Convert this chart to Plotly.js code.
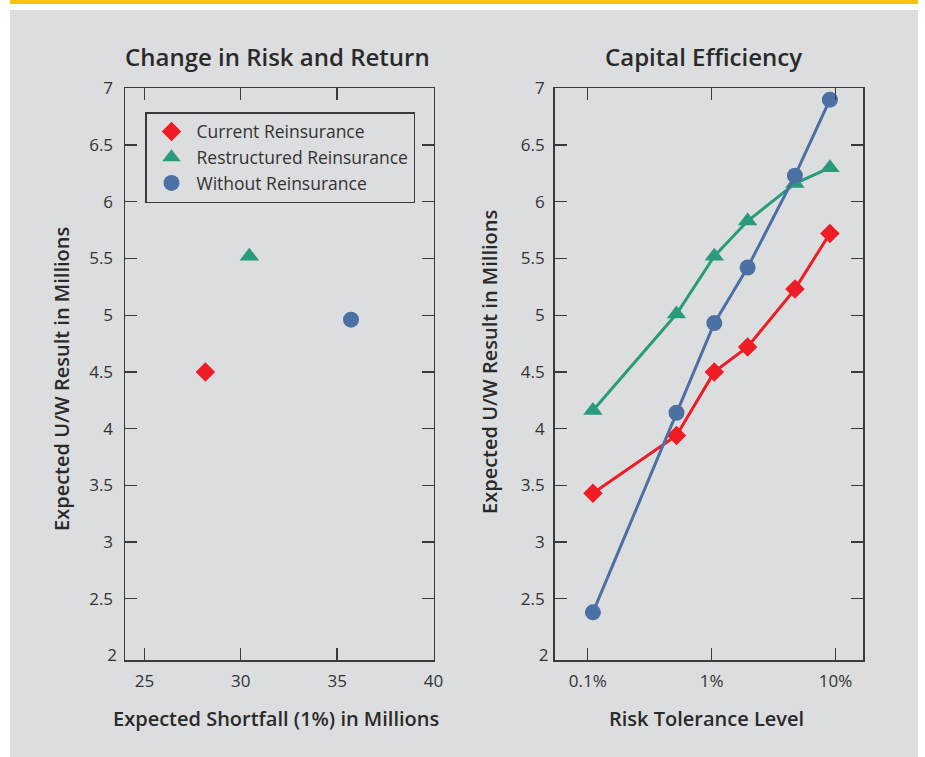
<!DOCTYPE html>
<html>
<head>
<meta charset="utf-8">
<script src="https://cdn.plot.ly/plotly-3.0.1.min.js"></script>
<style>
  html, body { margin: 0; padding: 0; background: #ffffff; }
  #chart { width: 925px; height: 757px; }
</style>
</head>
<body>
<div id="chart"></div>
<script>
// Series names
const seriesNames = ['Current Reinsurance', 'Restructured Reinsurance', 'Without Reinsurance'];

// Left panel: expected shortfall (1%) vs expected U/W result, in millions
const shortfall = [28.16, 30.44, 35.72];
const uwResult = [4.50, 5.52, 4.96];

// Right panel: risk tolerance level (%) vs expected U/W result, in millions
const riskTolerance = [0.11, 0.52, 1.05, 1.95, 4.7, 9.0];
const currentUW = [3.43, 3.94, 4.50, 4.72, 5.23, 5.72];
const restructuredUW = [4.16, 5.01, 5.52, 5.83, 6.16, 6.30];
const withoutUW = [2.38, 4.14, 4.93, 5.42, 6.23, 6.90];

// Tick labels
const leftXTicks = [25, 30, 35, 40];
const rightXTicks = [0.1, 1, 10];
const rightXTickText = ['0.1%', '1%', '10%'];
const yTicks = [2, 2.5, 3, 3.5, 4, 4.5, 5, 5.5, 6, 6.5, 7];

const colors = ['#ee1c25', '#2a9a7c', '#4b70a4'];
const symbols = ['diamond', 'triangle-up', 'circle'];
const sizes = [15, 17, 16];

const W = 925, H = 757;
const px = v => v / W;
const py = v => 1 - v / H;

const FONT = '"Open Sans", "Noto Sans", sans-serif';
const ink = '#333333';
const titleInk = '#2a2a2a';
const yRange = [1.96, 7];

const traces = [];

// Left panel: one marker per strategy
for (let i = 0; i < 3; i++) {
  traces.push({
    type: 'scatter', mode: 'markers',
    x: [shortfall[i]], y: [uwResult[i]],
    name: seriesNames[i],
    xaxis: 'x', yaxis: 'y',
    marker: { symbol: symbols[i], size: sizes[i], color: colors[i], line: { width: 0 } },
    showlegend: true
  });
}

// Right panel: lines with markers across tolerance levels
const rightSeries = [currentUW, restructuredUW, withoutUW];
for (let i = 0; i < 3; i++) {
  traces.push({
    type: 'scatter', mode: 'lines+markers',
    x: riskTolerance, y: rightSeries[i],
    name: seriesNames[i],
    xaxis: 'x2', yaxis: 'y2',
    line: { color: colors[i], width: 3 },
    marker: { symbol: symbols[i], size: sizes[i], color: colors[i], line: { width: 0 } },
    showlegend: false
  });
}

const axisCommon = {
  showline: true, linecolor: '#3a3a3a', linewidth: 1.5,
  mirror: 'ticks', ticks: 'inside', ticklen: 12, tickwidth: 1.3, tickcolor: '#3a3a3a',
  showgrid: false, zeroline: false,
  tickfont: { family: FONT, size: 17, color: ink },
  fixedrange: true
};

// The lowest y value sits just above the frame, so it gets a label but no tick mark
const yTickMarks = yTicks.slice(1);
const yLabelOnly = yTicks.slice(0, 1);

function labelAxis(overlay, anchor, standoff) {
  return {
    overlaying: overlay, anchor: anchor, domain: [py(660), py(88.3)],
    range: yRange, tickvals: yLabelOnly, ticks: '', showline: false,
    showgrid: false, zeroline: false, ticklabelstandoff: standoff,
    tickfont: { family: FONT, size: 17, color: ink }, fixedrange: true
  };
}

function label(text, x, y, size, angle) {
  return {
    text: text, xref: 'paper', yref: 'paper', x: px(x), y: py(y),
    xanchor: 'center', yanchor: 'middle', showarrow: false, textangle: angle || 0,
    font: { family: FONT, size: size, color: titleInk, weight: 600 }
  };
}

const layout = {
  width: W, height: H,
  margin: { l: 0, r: 0, t: 0, b: 0 },
  paper_bgcolor: '#ffffff',
  plot_bgcolor: 'rgba(0,0,0,0)',
  showlegend: true,
  font: { family: FONT, color: ink },
  xaxis: Object.assign({}, axisCommon, {
    domain: [px(125), px(433.5)], anchor: 'y',
    range: [23.99, 40], tickvals: leftXTicks, ticklabelstandoff: 5
  }),
  yaxis: Object.assign({}, axisCommon, {
    domain: [py(660), py(88.3)], anchor: 'x',
    range: yRange, tickvals: yTickMarks, ticklabelstandoff: 7
  }),
  xaxis2: Object.assign({}, axisCommon, {
    domain: [px(554.6), px(863.2)], anchor: 'y2',
    type: 'log', range: [-1.268, 1.223],
    tickvals: rightXTicks, ticktext: rightXTickText, ticklabelstandoff: 5
  }),
  yaxis2: Object.assign({}, axisCommon, {
    domain: [py(660), py(88.3)], anchor: 'x2',
    range: yRange, tickvals: yTickMarks, ticklabelstandoff: 5
  }),
  yaxis3: labelAxis('y', 'x', 7),
  yaxis4: labelAxis('y2', 'x2', 5),
  legend: {
    x: px(145), y: py(112), xanchor: 'left', yanchor: 'top',
    bgcolor: 'rgba(0,0,0,0)', bordercolor: '#3a3a3a', borderwidth: 1.5,
    itemwidth: 40,
    font: { family: FONT, size: 17.5, color: ink },
    itemclick: false, itemdoubleclick: false
  },
  shapes: [
    // grey panel
    { type: 'rect', xref: 'paper', yref: 'paper', layer: 'below',
      x0: px(10), x1: px(918), y0: 0, y1: py(10),
      fillcolor: '#dcdddf', line: { width: 0 } },
    // gold rule across the top
    { type: 'rect', xref: 'paper', yref: 'paper', layer: 'below',
      x0: px(10), x1: px(918), y0: py(4), y1: 1,
      fillcolor: '#fec20e', line: { width: 0 } }
  ],
  annotations: [
    label('Change in Risk and Return', 277.5, 57, 24),
    label('Capital Efficiency', 703, 57, 24),
    label('Expected Shortfall (1%) in Millions', 275.5, 718, 20),
    label('Risk Tolerance Level', 706, 718, 20),
    label('Expected U/W Result in Millions', 61, 379, 20, -90),
    label('Expected U/W Result in Millions', 489, 362, 20, -90)
  ]
};

// invisible traces bound to the label-only axes so they are laid out
traces.push({ type: 'scatter', mode: 'none', x: [], y: [], xaxis: 'x', yaxis: 'y3', showlegend: false, hoverinfo: 'skip' });
traces.push({ type: 'scatter', mode: 'none', x: [], y: [], xaxis: 'x2', yaxis: 'y4', showlegend: false, hoverinfo: 'skip' });

Plotly.newPlot('chart', traces, layout, { displayModeBar: false, staticPlot: true });
</script>
</body>
</html>
